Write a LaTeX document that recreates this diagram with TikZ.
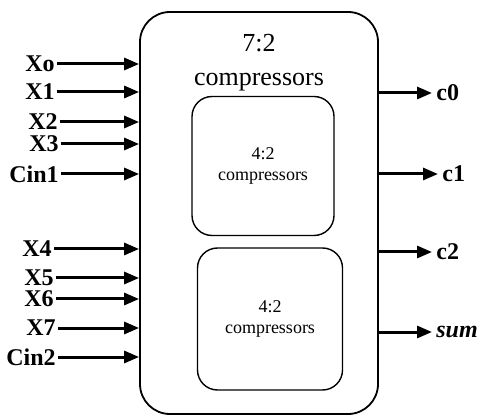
\documentclass[tikz,border=0pt]{standalone}
\usepackage{fontspec}
\setmainfont{Liberation Serif}
\usetikzlibrary{positioning, calc, arrows.meta}

\begin{document}
\begin{tikzpicture}[x=0.5pt, y=-0.5pt, >={Triangle[length=7.5pt, width=6pt]},
    bigbox/.style={draw, line width=0.9pt, rounded corners=15pt},
    subbox/.style={draw, line width=0.7pt, rounded corners=10pt, align=center,
        font=\fontsize{9}{10.5}\selectfont},
    inlabel/.style={anchor=east, inner sep=1pt, font=\bfseries\fontsize{12}{14}\selectfont},
    outlabel/.style={anchor=west, inner sep=2pt, font=\bfseries\fontsize{12}{14}\selectfont},
    sig/.style={->, line width=1.5pt}]

    \useasboundingbox (0,0) rectangle (481,416);

    % ================= 7:2 block =================
    \node[bigbox, minimum width=119pt, minimum height=201pt] (big) at (259,213) {};
    \node[align=center, font=\fontsize{13}{17}\selectfont] (title) at (259,63) {7:2\\compressors};

    % Inner 4:2 blocks
    \node[subbox, minimum width=71pt, minimum height=69.5pt] (upper) at (263,166) {4:2\\compressors};
    \node[subbox, minimum width=72.5pt, minimum height=71pt] (lower) at (270,319) {4:2\\compressors};

    % ================= Inputs =================
    \node[inlabel] (x0) at (57,64) {Xo};
    \node[inlabel] (x1) at (57,92) {X1};
    \node[inlabel] (x2) at (60,122) {X2};
    \node[inlabel] (x3) at (61,144) {X3};
    \node[inlabel] (cin1) at (61,174) {Cin1};
    \node[inlabel] (x4) at (54,249) {X4};
    \node[inlabel] (x5) at (56,278) {X5};
    \node[inlabel] (x6) at (56,299) {X6};
    \node[inlabel] (x7) at (58,328) {X7};
    \node[inlabel] (cin2) at (58,357) {Cin2};

    \draw[sig] (x0.east) -- (x0.east -| big.west);
    \draw[sig] (x1.east) -- (x1.east -| big.west);
    \draw[sig] (x2.east) -- (x2.east -| big.west);
    \draw[sig] (x3.east) -- (x3.east -| big.west);
    \draw[sig] (cin1.east) -- (cin1.east -| big.west);
    \draw[sig] (x4.east) -- (x4.east -| big.west);
    \draw[sig] (x5.east) -- (x5.east -| big.west);
    \draw[sig] (x6.east) -- (x6.east -| big.west);
    \draw[sig] (x7.east) -- (x7.east -| big.west);
    \draw[sig] (cin2.east) -- (cin2.east -| big.west);

    % ================= Outputs =================
    \node[outlabel] (c0) at (432,93) {c0};
    \node[outlabel] (c1) at (438,174) {c1};
    \node[outlabel] (c2) at (432,252) {c2};
    \node[outlabel, font=\bfseries\itshape\fontsize{12}{14}\selectfont] (sum) at (432,332) {sum};

    \draw[sig] (big.east |- c0.west) -- (c0.west);
    \draw[sig] (big.east |- c1.west) -- (c1.west);
    \draw[sig] (big.east |- c2.west) -- (c2.west);
    \draw[sig] (big.east |- sum.west) -- (sum.west);

\end{tikzpicture}
\end{document}
